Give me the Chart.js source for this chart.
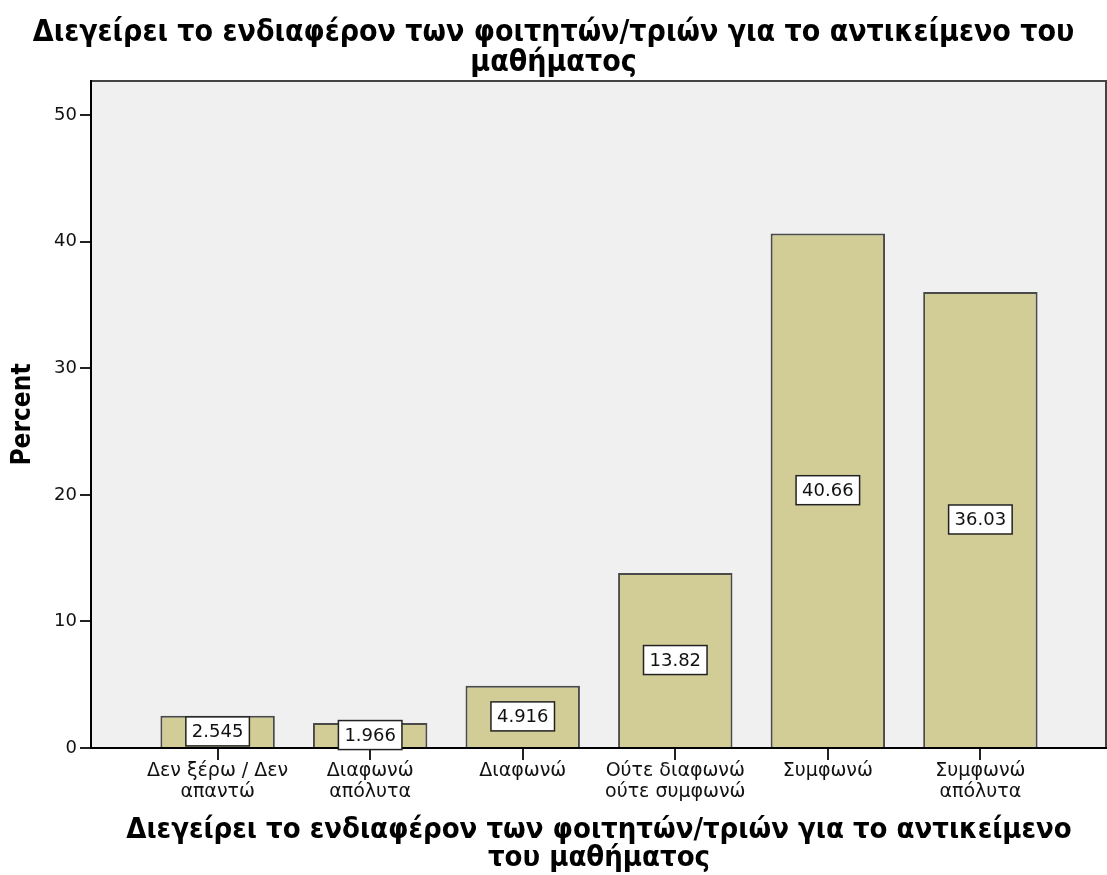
<!DOCTYPE html>
<html>
<head>
<meta charset="utf-8">
<script src="https://cdn.jsdelivr.net/npm/chart.js@4"></script>
<style>
  html, body { margin: 0; padding: 0; background: #fff; }
  #wrap { width: 1107px; height: 875px; }
</style>
</head>
<body>
<div id="wrap"><canvas id="chart"></canvas></div>
<script>
// categories (each one split into its printed lines)
const categories = [
  ['Δεν ξέρω / Δεν', 'απαντώ'],
  ['Διαφωνώ', 'απόλυτα'],
  ['Διαφωνώ'],
  ['Ούτε διαφωνώ', 'ούτε συμφωνώ'],
  ['Συμφωνώ'],
  ['Συμφωνώ', 'απόλυτα']
];
const percents = [2.545, 1.966, 4.916, 13.82, 40.66, 36.03];
const yTicks = [0, 10, 20, 30, 40, 50];

const titleLines = ['Διεγείρει το ενδιαφέρον των φοιτητών/τριών για το αντικείμενο του', 'μαθήματος'];
const xTitleLines = ['Διεγείρει το ενδιαφέρον των φοιτητών/τριών για το αντικείμενο', 'του μαθήματος'];

const boldFont = "'DejaVu Sans Condensed', 'DejaVu Sans', sans-serif";
const plainFont = "'DejaVu Sans', sans-serif";

// grey plot panel with a frame
const panel = {
  id: 'panel',
  beforeDraw(chart) {
    const { ctx, chartArea: a } = chart;
    ctx.save();
    ctx.fillStyle = '#f0f0f0';
    ctx.fillRect(a.left, a.top, a.right - a.left, a.bottom - a.top);
    ctx.strokeStyle = '#444';
    ctx.lineWidth = 2;
    ctx.beginPath();
    ctx.moveTo(a.left, a.top);
    ctx.lineTo(a.right - 1, a.top);
    ctx.lineTo(a.right - 1, a.bottom);
    ctx.stroke();
    ctx.restore();
  }
};

// white value boxes in the middle of each bar
const valueBoxes = {
  id: 'valueBoxes',
  afterDatasetsDraw(chart) {
    const { ctx } = chart;
    const meta = chart.getDatasetMeta(0);
    ctx.save();
    ctx.font = '18px ' + plainFont;
    ctx.textAlign = 'center';
    ctx.textBaseline = 'middle';
    meta.data.forEach((bar, i) => {
      const txt = percents[i].toPrecision(4);
      const w = ctx.measureText(txt).width + 12;
      const h = 29;
      const cx = bar.x;
      const cy = (bar.y + bar.base) / 2;
      ctx.fillStyle = '#fff';
      ctx.fillRect(cx - w / 2, cy - h / 2, w, h);
      ctx.strokeStyle = '#222';
      ctx.lineWidth = 1.5;
      ctx.strokeRect(cx - w / 2, cy - h / 2, w, h);
      ctx.fillStyle = '#111';
      ctx.fillText(txt, cx, cy + 1);
    });
    ctx.restore();
  }
};

new Chart(document.getElementById('chart'), {
  type: 'bar',
  data: {
    datasets: [{
      data: percents.map((v, i) => ({ x: i, y: v })),
      backgroundColor: '#d2cd96',
      borderColor: '#4a4a4a',
      borderWidth: 2,
      barPercentage: 0.75,
      categoryPercentage: 1
    }]
  },
  options: {
    responsive: true,
    maintainAspectRatio: false,
    animation: false,
    devicePixelRatio: 1,
    plugins: {
      legend: { display: false },
      tooltip: { enabled: false },
      title: {
        display: true,
        text: titleLines,
        color: '#000',
        font: { family: boldFont, size: 30, weight: 'bold', lineHeight: 1.0 },
        padding: { top: 18, bottom: 3 }
      }
    },
    scales: {
      x: {
        type: 'linear',
        min: -0.83,
        max: 5.83,
        offset: false,
        afterBuildTicks: s => { s.ticks = categories.map((c, i) => ({ value: i })); },
        afterFit: s => { s.height = 127; },
        grid: { display: true, offset: false, drawOnChartArea: false, tickLength: 12, color: '#222', lineWidth: 2 },
        border: { display: true, color: '#000', width: 2 },
        ticks: {
          autoSkip: false,
          maxRotation: 0,
          padding: 1,
          color: '#111',
          font: { family: plainFont, size: 19, lineHeight: 1.1 },
          callback: v => categories[v] || ''
        },
        title: {
          display: true,
          text: xTitleLines,
          color: '#000',
          font: { family: boldFont, size: 29, weight: 'bold', lineHeight: 0.95 },
          padding: { top: 0, bottom: 3 }
        }
      },
      y: {
        min: 0,
        max: 52.7,
        afterBuildTicks: s => { s.ticks = yTicks.map(v => ({ value: v })); },
        afterFit: s => { s.width = 91; },
        grid: { display: true, drawOnChartArea: false, tickLength: 11, color: '#222', lineWidth: 2 },
        border: { display: true, color: '#000', width: 2 },
        ticks: {
          padding: 3,
          color: '#111',
          font: { family: plainFont, size: 18 }
        },
        title: {
          display: true,
          text: 'Percent',
          color: '#000',
          font: { family: boldFont, size: 26, weight: 'bold' },
          padding: { top: 8, bottom: 0 }
        }
      }
    }
  },
  plugins: [panel, valueBoxes]
});
</script>
</body>
</html>
